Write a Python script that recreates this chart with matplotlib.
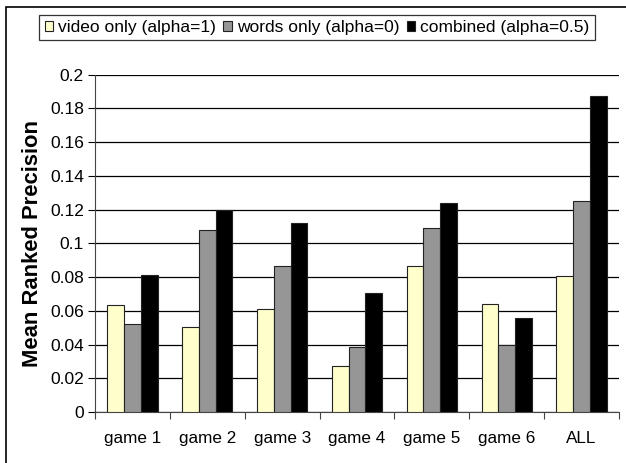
import matplotlib
matplotlib.use("Agg")
import matplotlib.pyplot as plt
from matplotlib.patches import Rectangle, Patch
import numpy as np

plt.rcParams['font.family'] = ['Liberation Sans', 'DejaVu Sans']

categories = ["game 1", "game 2", "game 3", "game 4", "game 5", "game 6", "ALL"]
video_only = [0.0634, 0.0506, 0.0611, 0.0273, 0.0868, 0.0642, 0.0808]
words_only = [0.0522, 0.1077, 0.0868, 0.0387, 0.1093, 0.0397, 0.1253]
combined = [0.0812, 0.1198, 0.1119, 0.0708, 0.1237, 0.0555, 0.1875]
series_labels = ["video only (alpha=1)", "words only (alpha=0)", "combined (alpha=0.5)"]
series_colors = ["#FFFFCC", "#969696", "#000000"]
y_ticks = [0, 0.02, 0.04, 0.06, 0.08, 0.1, 0.12, 0.14, 0.16, 0.18, 0.2]

W, H = 626, 463
fig = plt.figure(figsize=(W / 100, H / 100), dpi=100)
ax = fig.add_axes([95 / W, 1 - 412 / H, (619 - 95) / W, (412 - 74.7) / H])

x = np.arange(len(categories))
bw = 0.224
for i, (vals, col) in enumerate(zip([video_only, words_only, combined], series_colors)):
    ax.bar(x + (i - 1) * bw, vals, width=bw, color=col, edgecolor="#222222",
           linewidth=0.8, zorder=3)

ax.set_xlim(-0.5, len(categories) - 0.5)
ax.set_ylim(0, 0.2)
ax.set_yticks(y_ticks)
ax.set_yticklabels([f"{v:g}" for v in y_ticks])
ax.yaxis.grid(True, color="black", linewidth=0.9, zorder=0)
ax.set_axisbelow(True)

ax.set_xticks(x)
ax.set_xticklabels(categories)
ax.set_xticks(np.arange(-0.5, len(categories)), minor=True)
ax.tick_params(axis="x", which="major", length=0, pad=14, labelsize=12.3)
ax.tick_params(axis="x", which="minor", length=5, width=0.8, direction="out", color="#444444")
ax.tick_params(axis="y", length=5, width=0.8, direction="out", labelsize=12.5, pad=3)

for s in ["top", "right"]:
    ax.spines[s].set_visible(False)
for s in ["left", "bottom"]:
    ax.spines[s].set_color("#444444")
    ax.spines[s].set_linewidth(0.8)

ax.set_ylabel("Mean Ranked Precision", fontsize=15.8, fontweight="bold", labelpad=5)

# outer chart frame
fig.patches.append(Rectangle((6 / W, -0.05), 1.2, 1 - 7 / H + 0.05,
                             transform=fig.transFigure, fill=False,
                             edgecolor="black", linewidth=1.2))

handles = [Patch(facecolor=c, edgecolor="#222222", linewidth=0.8) for c in series_colors]
leg = fig.legend(handles, series_labels, loc="center", ncol=3,
                 bbox_to_anchor=(317 / W, 1 - 27.5 / H),
                 fontsize=12.5, frameon=True, fancybox=False, edgecolor="black",
                 handlelength=0.48, handleheight=0.48, handletextpad=0.28,
                 columnspacing=0.45, borderpad=0.3, borderaxespad=0)
leg.get_frame().set_linewidth(0.9)

fig.savefig("out.png", dpi=100)
